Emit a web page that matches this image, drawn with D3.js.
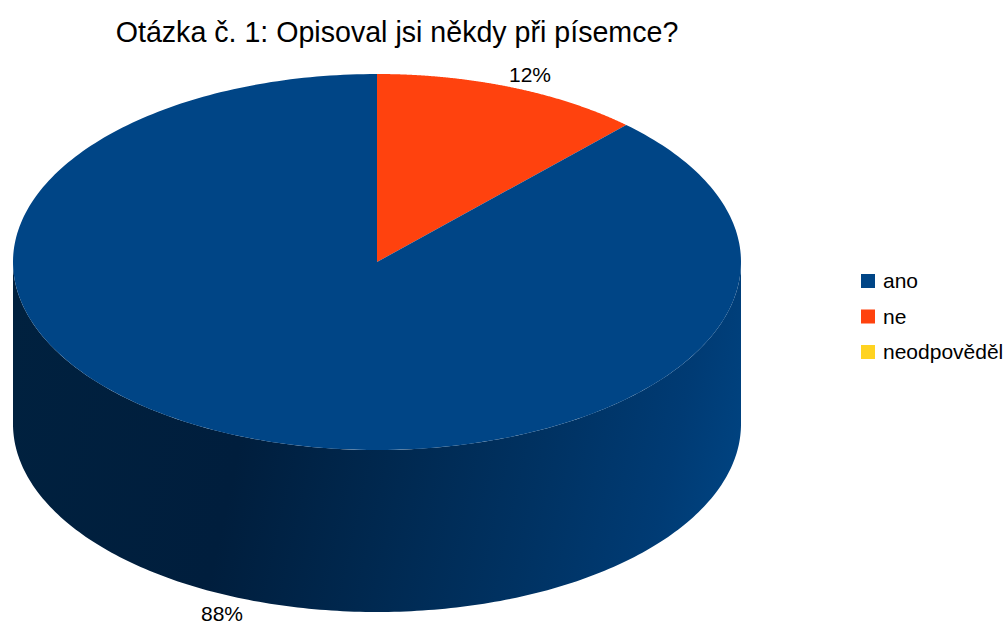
<!DOCTYPE html>
<html><head><meta charset="utf-8">
<script src="https://cdn.jsdelivr.net/npm/d3@7"></script>
<style>body{margin:0;background:#fff;} svg{display:block;}</style>
</head><body>
<svg id="c" width="1008" height="627"></svg>
<script>
const categories = ["ano", "ne", "neodpověděl"];
const values = [88, 12, 0];
const colors = ["#004586", "#ff420e", "#ffd320"];
const title = "Otázka č. 1: Opisoval jsi někdy při písemce?";

const svg = d3.select("#c");
const cx = 377, cy = 262, rx = 364, ry = 188, depth = 162;

// pie drawn clockwise from 12 o'clock, "ne" first
const order = [1, 0, 2];
const pie = d3.pie().sort(null).value(i => values[i]);
const arcs = pie(order);

function pt(a, dy) { return [cx + rx * Math.sin(a), cy - ry * Math.cos(a) + (dy || 0)]; }
function arcPts(a0, a1, dy, n) {
  const pts = [];
  for (let k = 0; k <= n; k++) pts.push(pt(a0 + (a1 - a0) * k / n, dy));
  return pts;
}

const defs = svg.append("defs");
const g1 = defs.append("linearGradient").attr("id", "side").attr("gradientUnits", "userSpaceOnUse")
  .attr("x1", cx - rx).attr("y1", cy).attr("x2", cx + rx).attr("y2", cy + depth);
[[0, "#00213f"], [0.35, "#001e3d"], [0.55, "#00284f"], [0.75, "#003262"], [0.92, "#003b74"], [1, "#00427f"]].forEach(s =>
  g1.append("stop").attr("offset", s[0]).attr("stop-color", s[1]));

const line = d3.line();
// side faces (front half: angles PI/2 .. 3PI/2)
arcs.forEach(d => {
  if (d.endAngle - d.startAngle <= 0) return;
  const a0 = Math.max(d.startAngle, Math.PI / 2), a1 = Math.min(d.endAngle, 3 * Math.PI / 2);
  if (a1 <= a0) return;
  const top = arcPts(a0, a1, 0, 200);
  const bot = arcPts(a1, a0, depth, 200);
  svg.append("path").attr("d", line(top.concat(bot)) + "Z")
    .attr("fill", d.data === 0 ? "url(#side)" : d3.color(colors[d.data]).darker(1.5));
});

// top faces
arcs.forEach(d => {
  if (d.endAngle - d.startAngle <= 0) return;
  const p = [[cx, cy]].concat(arcPts(d.startAngle, d.endAngle, 0, 300));
  svg.append("path").attr("d", line(p) + "Z").attr("fill", colors[d.data]);
});

// percentage labels
const fmt = d3.format(".0%");
const total = d3.sum(values);
const labelPos = { 1: [530, 82], 0: [222, 621] };
arcs.forEach(d => {
  if (!labelPos[d.data]) return;
  svg.append("text").attr("x", labelPos[d.data][0]).attr("y", labelPos[d.data][1])
    .attr("text-anchor", "middle").attr("font-family", "Liberation Sans, Arial, sans-serif")
    .attr("font-size", 21).attr("fill", "#000").text(fmt(values[d.data] / total));
});

// title
svg.append("text").attr("x", 397).attr("y", 42).attr("text-anchor", "middle")
  .attr("font-family", "Liberation Sans, Arial, sans-serif").attr("font-size", 28.6)
  .attr("fill", "#000").text(title);

// legend
const leg = svg.append("g");
categories.forEach((c, i) => {
  const y = 274 + i * 35.5;
  leg.append("rect").attr("x", 861).attr("y", y).attr("width", 14).attr("height", 14).attr("fill", colors[i]);
  leg.append("text").attr("x", 883).attr("y", y + 14).attr("font-family", "Liberation Sans, Arial, sans-serif")
    .attr("font-size", 21).attr("fill", "#000").text(c);
});
</script>
</body></html>
